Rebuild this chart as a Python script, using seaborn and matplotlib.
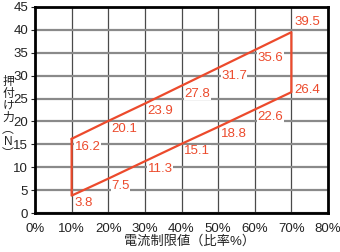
import matplotlib
matplotlib.use("Agg")
import matplotlib.pyplot as plt
import seaborn as sns
import pandas as pd

ratio = [10, 20, 30, 40, 50, 60, 70]
upper = [16.2, 20.1, 23.9, 27.8, 31.7, 35.6, 39.5]
lower = [3.8, 7.5, 11.3, 15.1, 18.8, 22.6, 26.4]
xticks = [0, 10, 20, 30, 40, 50, 60, 70, 80]
yticks = [0, 5, 10, 15, 20, 25, 30, 35, 40, 45]

sns.set_theme(style="white")
plt.rcParams['font.family'] = ['Liberation Sans', 'Noto Sans CJK JP', 'DejaVu Sans']

RED = "#ec4a2c"

fig = plt.figure(figsize=(3.4, 2.52), dpi=100)
ax = fig.add_axes([35/340, 1-213/252, 293/340, 206/252])

# closed outline: upper line, right side, lower line reversed, left side
px = ratio + ratio[::-1] + [ratio[0]]
py = upper + lower[::-1] + [upper[0]]
df = pd.DataFrame({"x": px, "y": py, "o": range(len(px))})
sns.lineplot(data=df, x="x", y="y", sort=False, estimator=None, color=RED, lw=1.6, ax=ax, zorder=3)

for xv in xticks:
    ax.axvline(xv, color="#4a4a4a", lw=0.9, zorder=1)
for yv in yticks:
    ax.axhline(yv, color="#8a8a8a", lw=1.6, zorder=1)

for xv, yv in zip(ratio, upper):
    if xv == 70:
        ax.text(xv + 0.8, yv + 1.0, f"{yv}", color=RED, fontsize=9.5, ha="left", va="bottom", zorder=4,
                bbox=dict(facecolor="white", edgecolor="none", pad=0.3))
    else:
        ax.text(xv + 0.8, yv - 1.7, f"{yv}", color=RED, fontsize=9.5, ha="left", va="center", zorder=4,
                bbox=dict(facecolor="white", edgecolor="none", pad=0.3))
for xv, yv in zip(ratio, lower):
    if xv == 70:
        ax.text(xv + 0.8, yv + 0.4, f"{yv}", color=RED, fontsize=9.5, ha="left", va="center", zorder=4,
                bbox=dict(facecolor="white", edgecolor="none", pad=0.3))
    else:
        ax.text(xv + 0.8, yv - 1.6, f"{yv}", color=RED, fontsize=9.5, ha="left", va="center", zorder=4,
                bbox=dict(facecolor="white", edgecolor="none", pad=0.3))

ax.set_xlim(0, 80)
ax.set_ylim(0, 45)
ax.set_xticks(xticks)
ax.set_xticklabels([f"{v}%" for v in xticks])
ax.set_yticks(yticks)
ax.tick_params(axis="both", labelsize=9.5, colors="#222222", length=3, width=0.8, direction="out", pad=2)
ax.tick_params(axis="y", left=True)
ax.tick_params(axis="x", bottom=False, pad=4)
for s in ax.spines.values():
    s.set_color("black")
    s.set_linewidth(2.0)
    s.set_zorder(5)
ax.set_xlabel("")
ax.set_ylabel("")

fig.text(190/340, 1-241/252, "電流制限値（比率%）", ha="center", va="center", fontsize=9.5, color="#222222")
fig.text(8/340, 1-118/252, "押\n付\nけ\n力\n︵\nN\n︶", ha="center", va="center", fontsize=8.5,
         color="#222222", linespacing=1.0)

fig.savefig("out.png", dpi=100)
